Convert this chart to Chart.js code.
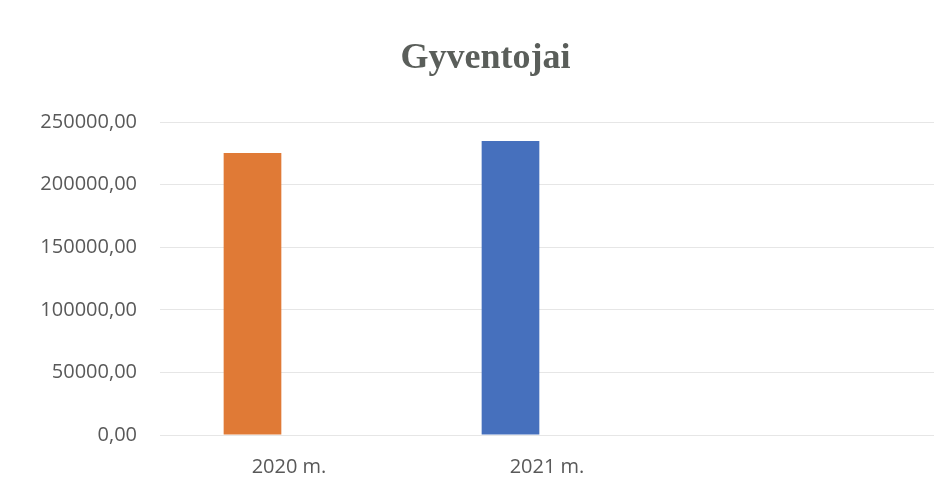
<!DOCTYPE html>
<html lang="lt">
<head>
    <meta charset="UTF-8">
    <title>Gyventojai</title>
    <script src="https://cdn.jsdelivr.net/npm/chart.js"></script>
    <style>
        body {
            margin: 0;
            padding: 0;
            background-color: #ffffff;
        }

        .chart-container {
            width: 944px;
            height: 501px;
        }
    </style>
</head>
<body>
    <div class="chart-container">
        <canvas id="popChart"></canvas>
    </div>
    <script>
        const categories = ['2020 m.', '2021 m.', ''];
        const population = [225300, 234900, null];
        const emptySeries = [null, null, null];
        const barColors = ['#E07A36', '#4670BD', '#A5A5A5'];

        const axisMax = 250000;
        const axisStep = 50000;

        const ctx = document.getElementById('popChart').getContext('2d');

        new Chart(ctx, {
            type: 'bar',
            data: {
                labels: categories,
                datasets: [
                    {
                        label: 'Gyventojai',
                        data: population,
                        backgroundColor: barColors,
                        categoryPercentage: 0.566,
                        barPercentage: 0.79
                    },
                    {
                        label: '',
                        data: emptySeries,
                        backgroundColor: '#A5A5A5',
                        categoryPercentage: 0.566,
                        barPercentage: 0.79
                    }
                ]
            },
            options: {
                responsive: true,
                maintainAspectRatio: false,
                animation: false,
                layout: {
                    padding: { left: 37, right: 10, top: 20, bottom: 2 }
                },
                scales: {
                    x: {
                        grid: { display: false, drawTicks: false },
                        border: { display: false },
                        ticks: {
                            padding: 20,
                            color: '#595959',
                            font: { family: 'Open Sans', size: 20 }
                        }
                    },
                    y: {
                        min: 0,
                        max: axisMax,
                        grid: { color: '#e6e6e6', drawTicks: false },
                        border: { display: false },
                        afterFit: function(scale) {
                            scale.width = 123; // plot starts at x=160 like the original
                        },
                        ticks: {
                            stepSize: axisStep,
                            padding: 23,
                            color: '#595959',
                            font: { family: 'Open Sans', size: 20 },
                            callback: function(value) {
                                return value.toFixed(2).replace('.', ',');
                            }
                        }
                    }
                },
                plugins: {
                    legend: { display: false },
                    tooltip: { enabled: false },
                    title: {
                        display: true,
                        text: 'Gyventojai',
                        color: '#5a5e5a',
                        font: { family: 'Liberation Serif', size: 36, weight: 'bold' },
                        padding: { top: 17, bottom: 42 }
                    }
                }
            }
        });
    </script>
</body>
</html>
